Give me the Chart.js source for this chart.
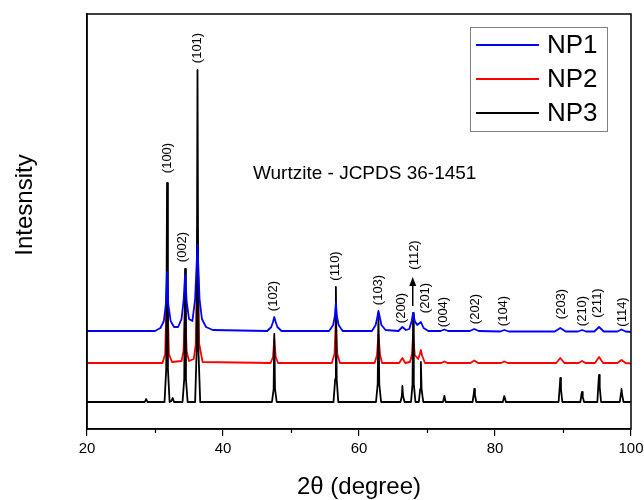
<!DOCTYPE html>
<html>
<head>
<meta charset="utf-8">
<script src="https://cdn.jsdelivr.net/npm/chart.js@4.4.1/dist/chart.umd.min.js"></script>
<style>
  html, body { margin: 0; padding: 0; background: #fff; }
  #wrap { width: 644px; height: 500px; }
</style>
</head>
<body>
<div id="wrap"><canvas id="xrd" width="644" height="500"></canvas></div>
<script>
// XRD patterns, [2theta, intensity (a.u.)]
const np1Points = [
  [20, 98], [30.0, 98], [30.8, 101], [31.3, 108], [31.6, 125], [31.77, 157], [31.95, 125], [32.3, 108], [32.8, 102],
  [33.4, 102], [33.9, 110], [34.2, 128], [34.42, 154], [34.65, 128], [35.0, 110],
  [35.5, 108], [35.9, 130], [36.25, 184], [36.55, 130], [36.9, 110], [37.5, 102], [38.5, 99],
  [46.5, 98], [47.1, 102], [47.35, 107], [47.54, 112], [47.75, 107], [48.0, 102], [48.6, 98],
  [55.6, 98], [56.2, 104], [56.45, 113], [56.6, 126], [56.75, 113], [57.0, 104], [57.6, 98],
  [61.9, 98], [62.45, 104], [62.7, 112], [62.86, 118], [63.05, 112], [63.3, 104], [63.9, 99],
  [65.8, 98], [66.38, 102], [66.9, 99],
  [67.4, 100], [67.75, 108], [67.96, 116], [68.2, 108], [68.55, 104],
  [69.1, 107], [69.5, 101], [70.2, 98],
  [72.0, 98], [72.56, 99.5], [73.1, 98],
  [76.3, 98], [76.95, 100], [77.6, 98],
  [80.8, 97.5], [81.37, 99], [82.0, 97.5],
  [88.8, 97.5], [89.6, 101], [90.4, 97.5],
  [92.2, 97.5], [92.8, 99], [93.4, 97.5],
  [94.6, 97.5], [95.3, 102], [96.0, 97.5],
  [98.0, 97.5], [98.6, 99.5], [99.2, 97.5], [100, 97]
];
const np2Points = [
  [20, 66], [31.1, 66], [31.5, 75], [31.77, 150], [32.05, 75], [32.5, 67],
  [33.9, 68], [34.2, 78], [34.42, 125], [34.65, 78], [35.0, 68],
  [35.7, 70], [36.0, 85], [36.25, 200], [36.5, 85], [37.0, 67],
  [47.0, 66], [47.35, 72], [47.54, 90], [47.75, 72], [48.1, 66],
  [56.0, 66], [56.4, 75], [56.6, 110], [56.8, 75], [57.2, 66],
  [62.3, 66], [62.65, 74], [62.86, 95], [63.1, 74], [63.4, 66],
  [65.9, 66], [66.38, 71], [66.8, 66],
  [67.5, 67], [67.8, 75], [67.96, 95], [68.2, 74],
  [68.7, 70], [68.95, 75], [69.1, 79], [69.3, 73], [69.7, 66],
  [72.1, 66], [72.56, 67.5], [73.0, 66],
  [76.4, 66], [76.95, 68.5], [77.5, 66],
  [80.9, 66], [81.37, 67.5], [81.9, 66],
  [89.0, 66], [89.6, 71], [90.2, 66],
  [92.3, 66], [92.8, 68], [93.3, 66],
  [94.7, 66], [95.3, 72], [95.9, 66],
  [98.0, 66], [98.6, 69], [99.2, 66], [100, 65.5]
];
const np3Points = [
  [20, 27], [28.5, 27], [28.7, 30], [28.9, 27],
  [31.4, 27], [31.65, 60], [31.77, 246], [31.9, 60], [32.15, 27],
  [32.4, 28], [32.6, 31], [32.8, 27],
  [34.05, 27], [34.3, 50], [34.42, 160], [34.55, 50], [34.8, 27],
  [35.9, 27], [36.13, 80], [36.25, 359], [36.38, 80], [36.65, 27],
  [47.2, 27], [47.45, 40], [47.54, 95], [47.65, 40], [47.9, 27],
  [56.25, 27], [56.5, 50], [56.6, 142], [56.72, 50], [56.95, 27],
  [62.5, 27], [62.75, 45], [62.86, 116], [62.98, 45], [63.25, 27],
  [66.1, 27], [66.3, 33], [66.38, 43], [66.48, 33], [66.7, 27],
  [67.65, 27], [67.87, 45], [67.96, 116], [68.06, 45], [68.3, 27],
  [68.8, 27], [69.0, 40], [69.1, 67], [69.2, 40], [69.45, 27],
  [72.35, 27], [72.56, 33], [72.75, 27],
  [76.7, 27], [76.9, 36], [76.95, 40], [77.05, 34], [77.25, 27],
  [81.15, 27], [81.37, 33], [81.6, 27],
  [89.35, 27], [89.55, 45], [89.6, 51], [89.7, 40], [89.9, 27],
  [92.55, 27], [92.75, 36], [92.8, 37], [92.9, 32], [93.1, 27],
  [95.05, 27], [95.25, 50], [95.3, 54], [95.4, 42], [95.6, 27],
  [98.35, 27], [98.55, 37], [98.6, 40], [98.7, 34], [98.9, 27], [100, 27]
];

const seriesNames = ["NP1", "NP2", "NP3"];
const seriesColors = ["#0000ff", "#ff0000", "#000000"];

// hkl reflections: label, 2theta of label, intensity at label centre
const hklLabels = ["(100)", "(002)", "(101)", "(102)", "(110)", "(103)", "(200)", "(112)",
                   "(201)", "(004)", "(202)", "(104)", "(203)", "(210)", "(211)", "(114)"];
const hklX = [31.76, 34.1, 36.2, 47.4, 56.5, 62.8, 66.3, 68.1, 69.7, 72.4, 77.1, 81.3, 89.7, 92.8, 95.1, 98.7];
const hklY = [271, 182, 381, 133, 163, 139, 121, 174, 131, 117, 120, 118, 125, 118, 126, 117];

const xTicks = [20, 40, 60, 80, 100];
const xMinorTicks = [30, 50, 70, 90];

const FONT = "'Liberation Sans', Arial, sans-serif";

const toXY = pts => pts.map(p => ({ x: p[0], y: p[1] }));

// frame, minor ticks, hkl labels, arrow, legend, y title
const decorPlugin = {
  id: "decor",
  afterDatasetsDraw(chart) {
    const ctx = chart.ctx;
    const ca = chart.chartArea;
    const xs = chart.scales.x;
    const ys = chart.scales.y;
    ctx.save();

    // box around plot
    ctx.strokeStyle = "#000";
    ctx.lineWidth = 1.5;
    ctx.strokeRect(ca.left, ca.top, ca.right - ca.left, ca.bottom - ca.top);

    // minor ticks
    ctx.lineWidth = 1.2;
    xMinorTicks.forEach(v => {
      const px = Math.round(xs.getPixelForValue(v)) + 0.5;
      ctx.beginPath();
      ctx.moveTo(px, ca.bottom);
      ctx.lineTo(px, ca.bottom + 4);
      ctx.stroke();
    });

    // reflection labels (rotated)
    ctx.fillStyle = "#000";
    ctx.font = "13px " + FONT;
    ctx.textAlign = "center";
    ctx.textBaseline = "middle";
    hklLabels.forEach((lab, i) => {
      ctx.save();
      ctx.translate(xs.getPixelForValue(hklX[i]), ys.getPixelForValue(hklY[i]));
      ctx.rotate(-Math.PI / 2);
      ctx.fillText(lab, 0, 0);
      ctx.restore();
    });

    // arrow above (112)
    const ax = xs.getPixelForValue(67.9);
    const ay0 = ys.getPixelForValue(123);
    const ay1 = ys.getPixelForValue(152);
    ctx.lineWidth = 1.5;
    ctx.beginPath();
    ctx.moveTo(ax, ay0);
    ctx.lineTo(ax, ay1 + 7);
    ctx.stroke();
    ctx.beginPath();
    ctx.moveTo(ax, ay1);
    ctx.lineTo(ax - 3.5, ay1 + 9);
    ctx.lineTo(ax + 3.5, ay1 + 9);
    ctx.closePath();
    ctx.fill();

    // phase note
    ctx.font = "19px " + FONT;
    ctx.textAlign = "left";
    ctx.fillText("Wurtzite - JCPDS 36-1451", xs.getPixelForValue(44.4), ys.getPixelForValue(255));

    // legend box
    const lx = ca.right - 161, ly = ca.top + 13, lw = 137, lh = 104;
    ctx.strokeStyle = "#808080";
    ctx.lineWidth = 1;
    ctx.strokeRect(lx + 0.5, ly + 0.5, lw, lh);
    ctx.font = "26px " + FONT;
    chart.data.datasets.forEach((ds, i) => {
      const yy = ly + 18 + i * 34;
      ctx.strokeStyle = ds.borderColor;
      ctx.lineWidth = 1.8;
      ctx.beginPath();
      ctx.moveTo(lx + 6, yy);
      ctx.lineTo(lx + 69, yy);
      ctx.stroke();
      ctx.fillStyle = "#000";
      ctx.fillText(ds.label, lx + 77, yy + 1);
    });

    // y axis title
    ctx.save();
    ctx.font = "24px " + FONT;
    ctx.textAlign = "center";
    ctx.translate(25, 205);
    ctx.rotate(-Math.PI / 2);
    ctx.fillText("Intesnsity", 0, 0);
    ctx.restore();

    ctx.restore();
  }
};

const allPoints = [np1Points, np2Points, np3Points];
const drawOrder = [0, 2, 1]; // blue on top, red at the bottom

new Chart(document.getElementById("xrd"), {
  type: "line",
  data: {
    datasets: seriesNames.map((name, i) => ({
      label: name,
      data: toXY(allPoints[i]),
      borderColor: seriesColors[i],
      borderWidth: 1.8,
      borderJoinStyle: "round",
      pointRadius: 0,
      tension: 0,
      fill: false,
      order: drawOrder[i],
    })),
  },
  options: {
    responsive: false,
    animation: false,
    events: [],
    layout: { padding: { top: 14, right: 13, left: 0, bottom: 0 } },
    plugins: { legend: { display: false }, tooltip: { enabled: false } },
    scales: {
      x: {
        type: "linear",
        min: 20,
        max: 100,
        afterBuildTicks: s => { s.ticks = xTicks.map(v => ({ value: v })); },
        ticks: { color: "#000", font: { size: 15, family: FONT }, padding: 4, maxRotation: 0 },
        grid: { drawOnChartArea: false, drawTicks: true, tickLength: 7, color: "#000", lineWidth: 1.2 },
        border: { color: "#000", width: 1.5 },
        title: { display: true, text: "2θ (degree)", color: "#000", font: { size: 24, family: FONT }, padding: { top: 0, bottom: -2 } },
        afterFit: s => { s.height = 71; s.paddingLeft = 0; s.paddingRight = 0; },
      },
      y: {
        min: 0,
        max: 415,
        ticks: { display: false },
        grid: { display: false },
        border: { color: "#000", width: 1.5 },
        afterFit: s => { s.width = 87; },
      },
    },
  },
  plugins: [decorPlugin],
});
</script>
</body>
</html>
